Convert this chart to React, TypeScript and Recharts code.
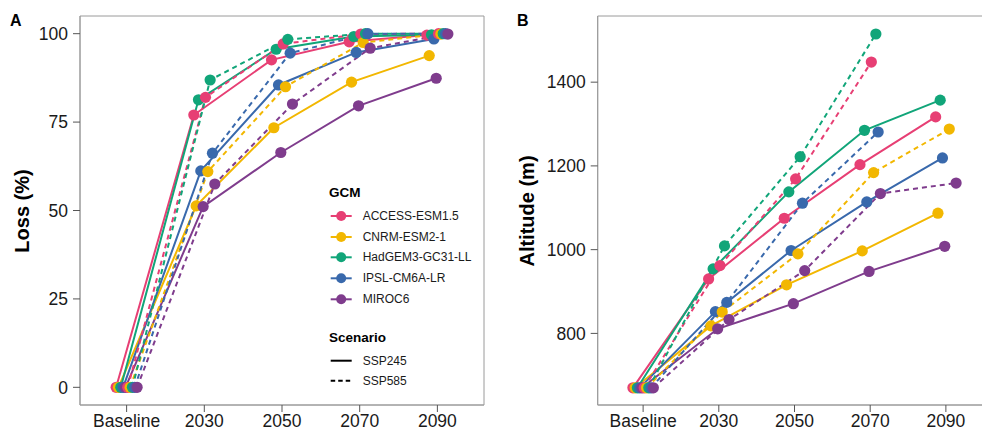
import React from 'react';
import { LineChart, Line, XAxis, YAxis, ReferenceArea } from 'recharts';

const categories = ['Baseline', '2030', '2050', '2070', '2090'];
const gcms = ['ACCESS-ESM1.5', 'CNRM-ESM2-1', 'HadGEM3-GC31-LL', 'IPSL-CM6A-LR', 'MIROC6'];
const scenarios = ['SSP245', 'SSP585'];
const gcmColors = ['#E73F74', '#F2B701', '#11A579', '#3969AC', '#7F3C8D'];

// Loss (%) — rows follow gcms order
const lossSSP245 = [
  [0, 77.0, 92.6, 97.7, 99.6],
  [0, 51.3, 73.4, 86.3, 93.8],
  [0, 81.3, 95.6, 99.2, 99.7],
  [0, 61.2, 85.5, 94.7, 98.5],
  [0, 51.1, 66.4, 79.6, 87.4],
];
const lossSSP585 = [
  [0, 82.0, 97.1, 99.9, 100],
  [0, 61.0, 85.0, 97.5, 99.9],
  [0, 86.9, 98.4, 100, 100],
  [0, 66.2, 94.5, 100, 100],
  [0, 57.5, 80.1, 95.9, 99.9],
];

// Altitude (m) — rows follow gcms order
const altSSP245 = [
  [670, 930, 1075, 1203, 1317],
  [670, 818, 916, 997, 1087],
  [670, 954, 1138, 1285, 1357],
  [670, 852, 998, 1114, 1219],
  [670, 811, 871, 948, 1008],
];
const altSSP585 = [
  [670, 962, 1169, 1448, null],
  [670, 851, 990, 1184, 1288],
  [670, 1009, 1222, 1515, null],
  [670, 874, 1111, 1281, null],
  [670, 833, 950, 1134, 1159],
];

const lossTicks = [0, 25, 50, 75, 100];
const altTicks = [800, 1000, 1200, 1400];

const FONT = '"Liberation Sans", Arial, sans-serif';
const DODGE_STEP = 0.03;
const X_DOMAIN: [number, number] = [-0.6, 4.6];

type Row = { x: number; y: number };

const series = scenarios.flatMap((sc, si) =>
  gcms.map((g, gi) => ({ name: `${g} ${sc}`, si, gi, k: si * gcms.length + gi, color: gcmColors[gi], dashed: si === 1 }))
);

function build(values: (number | null)[][][], si: number, gi: number, k: number): Row[] {
  const off = (k - (series.length - 1) / 2) * DODGE_STEP;
  const out: Row[] = [];
  categories.forEach((c, i) => {
    const v = values[si][gi][i];
    if (v !== null && v !== undefined) out.push({ x: i + off, y: v });
  });
  return out;
}

const tickStyle = { fill: '#1a1a1a', fontSize: 17.5, fontFamily: FONT };

function Panel(props: {
  width: number;
  margin: any;
  domain: [number, number];
  ticks: number[];
  values: (number | null)[][][];
  prefix: string;
}) {
  const { width, margin, domain, ticks, values, prefix } = props;
  return (
    <LineChart width={width} height={432} margin={margin} style={{ fontFamily: FONT }}>
      <XAxis
        type="number"
        dataKey="x"
        domain={X_DOMAIN}
        ticks={[0, 1, 2, 3, 4]}
        interval={0}
        allowDataOverflow
        tickFormatter={(v: number) => categories[Math.round(v)]}
        height={27}
        tickSize={7}
        tickMargin={3}
        tick={tickStyle}
        tickLine={{ stroke: '#555' }}
        axisLine={{ stroke: '#9a9a9a' }}
      />
      <YAxis
        type="number"
        domain={domain}
        ticks={ticks}
        interval={0}
        allowDataOverflow
        width={60}
        tickSize={7}
        tickMargin={5}
        tick={tickStyle}
        tickLine={{ stroke: '#555' }}
        axisLine={{ stroke: '#9a9a9a' }}
      />
      <ReferenceArea
        x1={X_DOMAIN[0]}
        x2={X_DOMAIN[1]}
        y1={domain[0]}
        y2={domain[1]}
        fill="none"
        fillOpacity={0}
        stroke="#9a9a9a"
        strokeWidth={1}
        ifOverflow="visible"
      />
      {series.map((s) => (
        <Line
          key={`${prefix}-l-${s.k}`}
          data={build(values, s.si, s.gi, s.k)}
          dataKey="y"
          type="linear"
          stroke={s.color}
          strokeWidth={2}
          strokeDasharray={s.dashed ? '5 4' : undefined}
          dot={false}
          activeDot={false}
          isAnimationActive={false}
        />
      ))}
      {series.map((s) => (
        <Line
          key={`${prefix}-p-${s.k}`}
          data={build(values, s.si, s.gi, s.k)}
          dataKey="y"
          type="linear"
          stroke="none"
          strokeWidth={0}
          dot={{ r: 5.6, fill: s.color, stroke: 'none', strokeWidth: 0 }}
          activeDot={false}
          isAnimationActive={false}
        />
      ))}
    </LineChart>
  );
}

function Overlay() {
  const legendY = [216, 237, 257.3, 278.3, 299.3];
  const scenY = [360.7, 380.7];
  return (
    <svg width={982} height={432} style={{ position: 'absolute', left: 0, top: 0, pointerEvents: 'none', fontFamily: FONT }}>
      <text x={10} y={26} fontSize={16} fontWeight="bold" fill="#000">A</text>
      <text x={517} y={26} fontSize={16} fontWeight="bold" fill="#000">B</text>
      <text transform="rotate(-90 22 211)" x={22} y={211} textAnchor="middle" dominantBaseline="central" fontSize={20} fontWeight="bold" fill="#000">Loss (%)</text>
      <text transform="rotate(-90 527 211)" x={527} y={211} textAnchor="middle" dominantBaseline="central" fontSize={20} fontWeight="bold" fill="#000">Altitude (m)</text>
      <text x={329} y={197} fontSize={13.5} fontWeight="bold" fill="#000">GCM</text>
      {gcms.map((g, i) => (
        <g key={g}>
          <line x1={330.7} x2={351.7} y1={legendY[i]} y2={legendY[i]} stroke={gcmColors[i]} strokeWidth={2} />
          <circle cx={341.2} cy={legendY[i]} r={5} fill={gcmColors[i]} />
          <text x={362.7} y={legendY[i]} dominantBaseline="central" fontSize={12} fill="#1a1a1a">{g}</text>
        </g>
      ))}
      <text x={329} y={341.7} fontSize={13.5} fontWeight="bold" fill="#000">Scenario</text>
      {scenarios.map((sc, i) => (
        <g key={sc}>
          <line x1={330.7} x2={351.7} y1={scenY[i]} y2={scenY[i]} stroke="#000" strokeWidth={2} strokeDasharray={i === 1 ? '4.5 3' : undefined} />
          <text x={362.7} y={scenY[i]} dominantBaseline="central" fontSize={12} fill="#1a1a1a">{sc}</text>
        </g>
      ))}
    </svg>
  );
}

export default function App() {
  return (
    <div style={{ position: 'absolute', left: 0, top: 0, width: 982, height: 432, overflow: 'hidden', background: '#fff' }}>
      <div style={{ position: 'absolute', left: 0, top: 0 }}>
        <Panel
          width={490}
          margin={{ top: 16, right: 6, bottom: 0, left: 20 }}
          domain={[-5, 105]}
          ticks={lossTicks}
          values={[lossSSP245, lossSSP585]}
          prefix="a"
        />
      </div>
      <div style={{ position: 'absolute', left: 470, top: 0 }}>
        <Panel
          width={530}
          margin={{ top: 16, right: 8.7, bottom: 0, left: 67.7 }}
          domain={[629, 1558]}
          ticks={altTicks}
          values={[altSSP245, altSSP585]}
          prefix="b"
        />
      </div>
      <Overlay />
    </div>
  );
}
